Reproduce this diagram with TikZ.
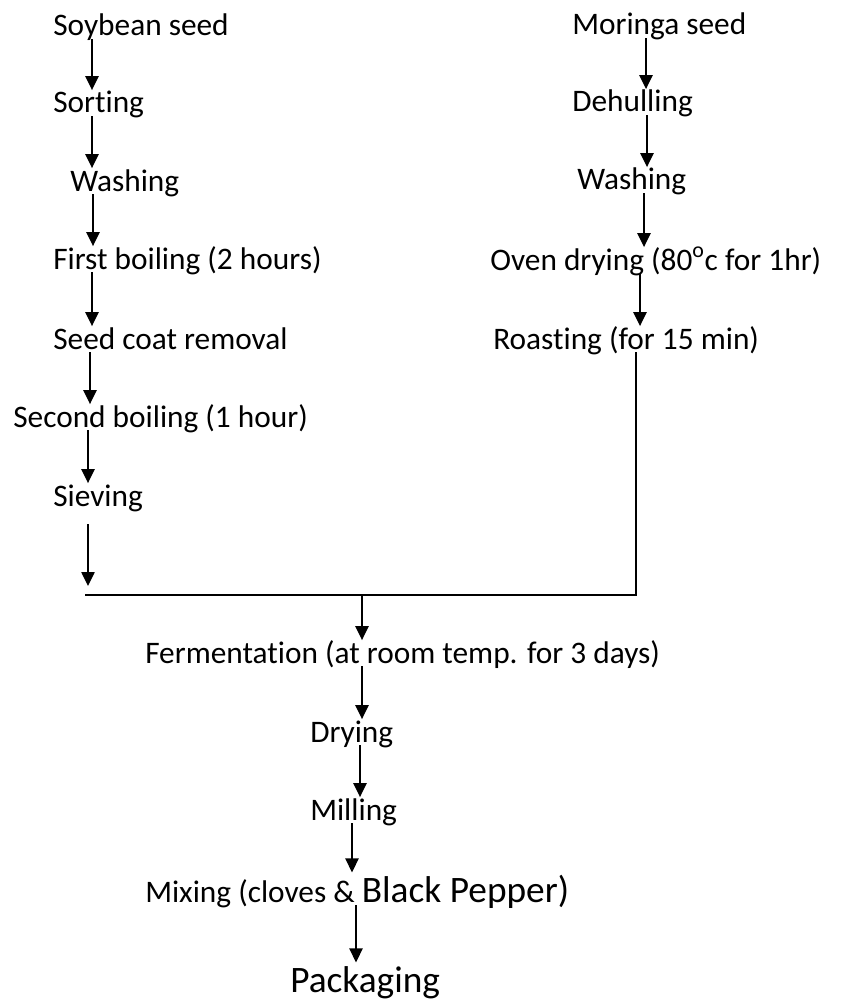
\documentclass[tikz,border=0pt]{standalone}
\usepackage{fontspec}
\setmainfont[Ligatures=NoCommon]{Carlito}
\usetikzlibrary{arrows.meta,calc}
\tikzset{
  stage/.style={inner sep=0pt, anchor=base west, text height=17pt, text depth=2.25pt,
    font=\fontsize{23.5}{28}\selectfont},
  flow/.style={-{Triangle[width=10pt,length=10.5pt]}, line width=1.1pt},
}
\begin{document}
\begin{tikzpicture}[x=0.75pt, y=-0.75pt]
  \useasboundingbox (0,0) rectangle (845,1002);
  % soybean branch
  \node[stage] (soy)   at (53,36)  {Soybean seed};
  \node[stage] (sort)  at (53,113) {Sorting};
  \node[stage] (wash1) at (70,191) {Washing};
  \node[stage] (boil1) at (53,269) {First boiling (2 hours)};
  \node[stage] (coat)  at (53,349) {Seed coat removal};
  \node[stage] (boil2) at (13,427) {Second boiling (1 hour)};
  \node[stage] (sieve) at (53,506) {Sieving};
  % moringa branch
  \node[stage] (mor)    at (572,35)  {Moringa seed};
  \node[stage] (dehull) at (572,112) {Dehulling};
  \node[stage] (wash2)  at (577,190) {Washing};
  \node[stage] (oven)   at (490,270) {Oven drying (80\textsuperscript{o}c for 1hr)};
  \node[stage] (roast)  at (493,349) {Roasting (for 15 min)};
  % common line
  \node[stage] (ferm) at (145,663) {Fermentation (at room temp. for 3 days)};
  \node[stage] (dry)  at (310,742) {Drying};
  \node[stage] (mill) at (310,820) {Milling};
  \node[stage, text height=22pt] (mix) at (145,902)
    {Mixing (cloves \& {\fontsize{28}{32}\selectfont Black Pepper)}};
  \node[stage, text height=22pt, font=\fontsize{28}{32}\selectfont] (pack) at (290,992) {Packaging};

  \foreach \a/\b/\x in {soy/sort/92, sort/wash1/92, wash1/boil1/93, boil1/coat/92,
      coat/boil2/90, boil2/sieve/88, mor/dehull/646, dehull/wash2/647, wash2/oven/644,
      oven/roast/640, ferm/dry/362, dry/mill/360, mill/mix/352, mix/pack/356}
    \draw[flow] (\a.south -| \x,0) -- (\b.north -| \x,0);

  % joining the two branches
  \coordinate (sievein) at (88,586);
  \coordinate (mergeL) at (85,595);
  \coordinate (mergeR) at (636,595);
  \coordinate (drop) at (362,595);
  \draw[flow] ($(sieve.south -| sievein)+(0,15)$) -- (sievein);
  \draw[line width=1.5pt] (roast.south -| mergeR) -- (mergeR) -- (mergeL);
  \draw[flow] (drop) -- (ferm.north -| drop);
\end{tikzpicture}
\end{document}
